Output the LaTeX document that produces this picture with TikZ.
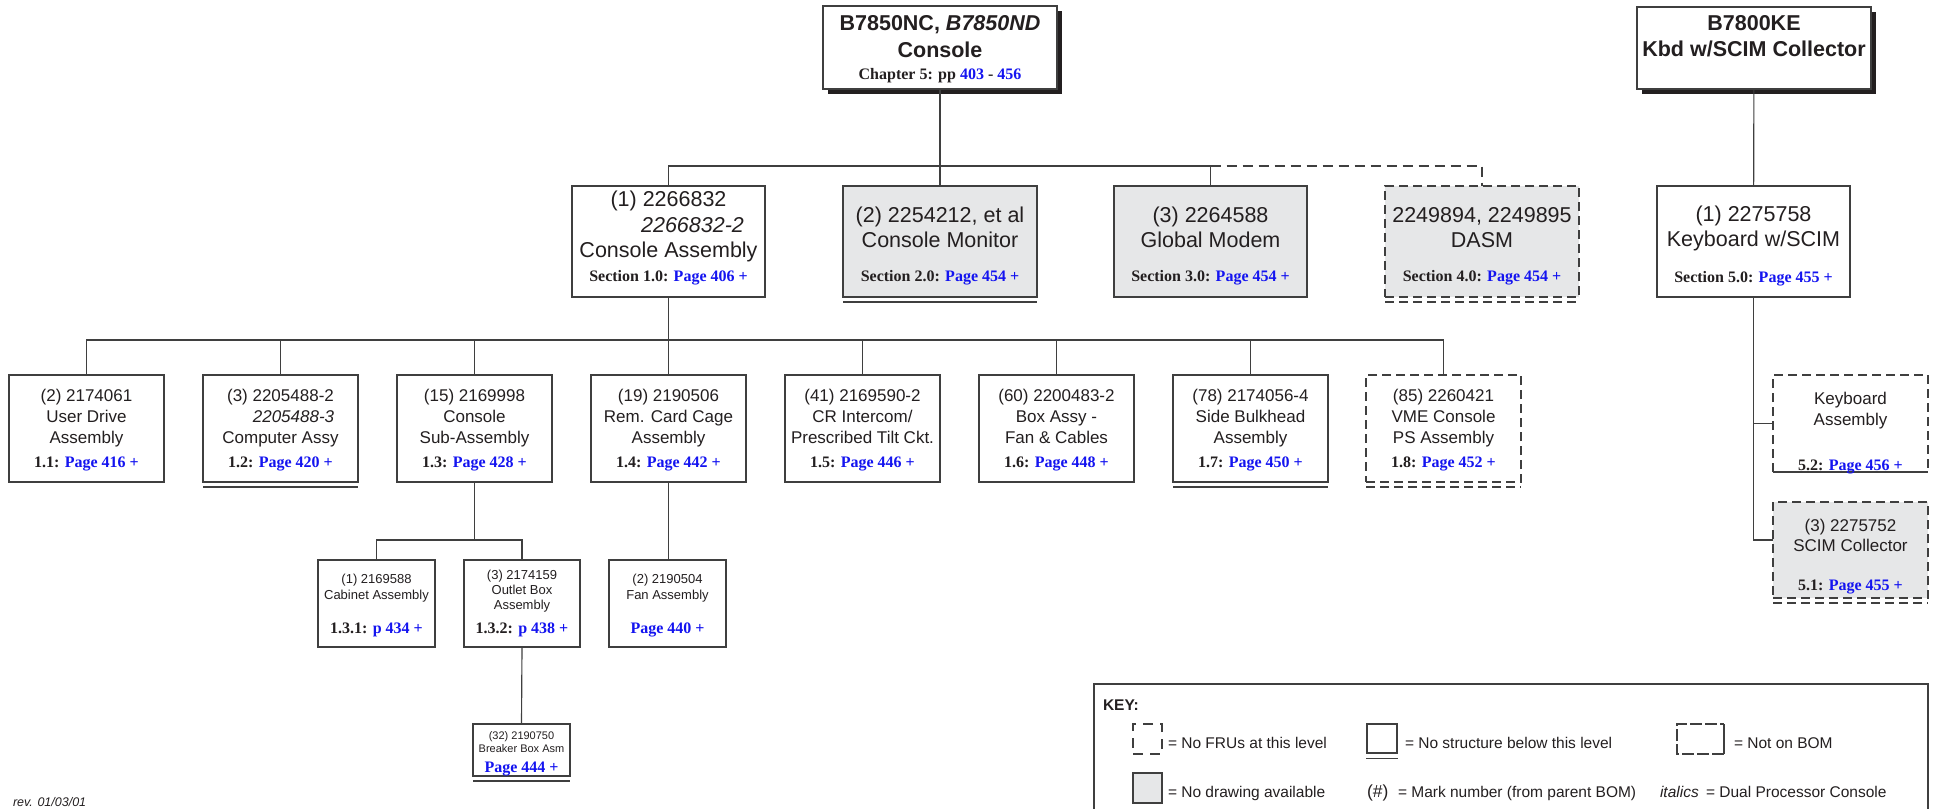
\documentclass[tikz,border=0pt]{standalone}
\usepackage{fontspec}
\setmainfont{Liberation Sans}
\newfontfamily\tms{Liberation Serif}
\usetikzlibrary{fit,calc}
\definecolor{ink}{HTML}{231F20}
\definecolor{edge}{HTML}{3F3F3F}
\definecolor{gfill}{HTML}{E6E7E8}
\definecolor{lnk}{RGB}{20,20,240}
\newcommand\fA{\fontsize{21.5bp}{25bp}\selectfont}
\newcommand\fB{\fontsize{17bp}{21bp}\selectfont}
\newcommand\fC{\fontsize{13bp}{15bp}\selectfont}
\newcommand\fD{\fontsize{11bp}{13bp}\selectfont}
\newcommand\fP{\tms\bfseries\fontsize{16bp}{19bp}\selectfont}
\newcommand\fK{\fontsize{15.5bp}{18bp}\selectfont}
\newcommand\pg[1]{\textcolor{lnk}{#1}}
\newcommand\T[5][]{\node[txt,#1] (#2) at (#3,#4) {#5};}
\begin{document}
\begin{tikzpicture}[x=1bp,y=-1bp,
  box/.style={draw=edge, line width=1.25bp, fill=white, inner sep=0pt, outer sep=0pt},
  gbox/.style={box, fill=gfill},
  dbox/.style={dash pattern=on 9bp off 5bp},
  conn/.style={draw=edge, line width=1.15bp},
  dconn/.style={conn, dash pattern=on 10bp off 6bp},
  txt/.style={inner sep=0pt, outer sep=0pt, anchor=base, text=ink},
  fa/.style={font=\fA}, fb/.style={font=\fB}, fc/.style={font=\fC},
  fd/.style={font=\fD}, fp/.style={font=\fP}, fk/.style={font=\fK}]
\useasboundingbox (0,0) rectangle (1938,809);

% ---------- top boxes with shadows ----------
\fill[ink] (828,11) rectangle (1062,94);
\node[box, fit={(823,6) (1057,89)}] (top) {};
\T[fa]{t1}{940}{31}{\bfseries B7850NC, \itshape B7850ND}
\T[fa]{t2}{940}{58}{\bfseries Console}
\T[fp]{t3}{940}{80}{Chapter 5: pp \pg{403} - \pg{456}}

\fill[ink] (1642,12) rectangle (1876,94);
\node[box, fit={(1637,7) (1871,89)}] (kbe) {};
\T[fa]{k1}{1754}{31}{\bfseries B7800KE}
\T[fa]{k2}{1754}{57}{\bfseries Kbd w/SCIM Collector}

% ---------- level 2 ----------
\node[box, fit={(572,186) (765,297)}] (ca) {};
\T[fa]{ca1}{668.5}{206}{(1) 2266832}
\T[fa]{ca2}{692.5}{232}{\itshape 2266832-2}
\T[fa]{ca3}{668.5}{257}{Console Assembly}
\T[fp]{ca4}{668.5}{281}{Section 1.0: \pg{Page 406 +}}

\node[gbox, fit={(843,186) (1037,297)}] (mon) {};
\draw[conn, line width=1.25bp] ([yshift=-5bp]mon.south west) -- ([yshift=-5bp]mon.south east);
\T[fa]{mo1}{940}{222}{(2) 2254212, et al}
\T[fa]{mo2}{940}{247}{Console Monitor}
\T[fp]{mo3}{940}{281}{Section 2.0: \pg{Page 454 +}}

\node[gbox, fit={(1114,186) (1307,297)}] (gm) {};
\T[fa]{gm1}{1210.5}{222}{(3) 2264588}
\T[fa]{gm2}{1210.5}{247}{Global Modem}
\T[fp]{gm3}{1210.5}{281}{Section 3.0: \pg{Page 454 +}}

\node[gbox, dbox, fit={(1385,186) (1579,297)}] (dasm) {};
\draw[conn, dbox, line width=1.25bp] ([yshift=-5bp]dasm.south west) -- ([yshift=-5bp]dasm.south east);
\T[fa]{da1}{1482}{222}{2249894, 2249895}
\T[fa]{da2}{1482}{247}{DASM}
\T[fp]{da3}{1482}{281}{Section 4.0: \pg{Page 454 +}}

\node[box, fit={(1657,186) (1850,297)}] (kbs) {};
\T[fa]{ks1}{1753.5}{221}{(1) 2275758}
\T[fa]{ks2}{1753.5}{246}{Keyboard w/SCIM}
\T[fp]{ks3}{1753.5}{282}{Section 5.0: \pg{Page 455 +}}

\draw[conn] (top) -- (mon);
\draw[conn] (ca.north) -- ++(0,-20) -| (gm.north);
\draw[dconn] (gm.north) ++(0,-20) -| (dasm.north);
\draw[conn] (kbe) -- (kbs);

% ---------- level 3 ----------
\node[box, fit={(9,375) (164,482)}] (b11) {};
\T[fb]{b11a}{86.5}{401}{(2) 2174061}
\T[fb]{b11b}{86.5}{422}{User Drive}
\T[fb]{b11c}{86.5}{443}{Assembly}
\T[fp]{b11d}{86.5}{467}{1.1: \pg{Page 416 +}}

\node[box, fit={(203,375) (358,482)}] (b12) {};
\draw[conn, line width=1.25bp] ([yshift=-5bp]b12.south west) -- ([yshift=-5bp]b12.south east);
\T[fb]{b12a}{280.5}{401}{(3) 2205488-2}
\T[fb]{b12b}{293.5}{422}{\itshape 2205488-3}
\T[fb]{b12c}{280.5}{443}{Computer Assy}
\T[fp]{b12d}{280.5}{467}{1.2: \pg{Page 420 +}}

\node[box, fit={(397,375) (552,482)}] (b13) {};
\T[fb]{b13a}{474.5}{401}{(15) 2169998}
\T[fb]{b13b}{474.5}{422}{Console}
\T[fb]{b13c}{474.5}{443}{Sub-Assembly}
\T[fp]{b13d}{474.5}{467}{1.3: \pg{Page 428 +}}

\node[box, fit={(591,375) (746,482)}] (b14) {};
\T[fb]{b14a}{668.5}{401}{(19) 2190506}
\T[fb]{b14b}{668.5}{422}{Rem. Card Cage}
\T[fb]{b14c}{668.5}{443}{Assembly}
\T[fp]{b14d}{668.5}{467}{1.4: \pg{Page 442 +}}

\node[box, fit={(785,375) (940,482)}] (b15) {};
\T[fb]{b15a}{862.5}{401}{(41) 2169590-2}
\T[fb]{b15b}{862.5}{422}{CR Intercom/}
\T[fb]{b15c}{862.5}{443}{Prescribed Tilt Ckt.}
\T[fp]{b15d}{862.5}{467}{1.5: \pg{Page 446 +}}

\node[box, fit={(979,375) (1134,482)}] (b16) {};
\T[fb]{b16a}{1056.5}{401}{(60) 2200483-2}
\T[fb]{b16b}{1056.5}{422}{Box Assy -}
\T[fb]{b16c}{1056.5}{443}{Fan \& Cables}
\T[fp]{b16d}{1056.5}{467}{1.6: \pg{Page 448 +}}

\node[box, fit={(1173,375) (1328,482)}] (b17) {};
\draw[conn, line width=1.25bp] ([yshift=-5bp]b17.south west) -- ([yshift=-5bp]b17.south east);
\T[fb]{b17a}{1250.5}{401}{(78) 2174056-4}
\T[fb]{b17b}{1250.5}{422}{Side Bulkhead}
\T[fb]{b17c}{1250.5}{443}{Assembly}
\T[fp]{b17d}{1250.5}{467}{1.7: \pg{Page 450 +}}

\node[box, dbox, fit={(1366,375) (1521,482)}] (b18) {};
\draw[conn, dbox, line width=1.25bp] ([yshift=-5bp]b18.south west) -- ([yshift=-5bp]b18.south east);
\T[fb]{b18a}{1443.5}{401}{(85) 2260421}
\T[fb]{b18b}{1443.5}{422}{VME Console}
\T[fb]{b18c}{1443.5}{443}{PS Assembly}
\T[fp]{b18d}{1443.5}{467}{1.8: \pg{Page 452 +}}

\draw[conn] (ca.south) -- ++(0,43);
\draw[conn] (b11.north) -- ++(0,-35) -| (b18.north);
\foreach \b in {b12,b13,b14,b15,b16,b17} {\draw[conn] (\b.north) -- ++(0,-35);}

% ---------- level 4 ----------
\node[box, fit={(318,560) (435,647)}] (b131) {};
\T[fc]{c1a}{376.5}{583}{(1) 2169588}
\T[fc]{c1b}{376.5}{599}{Cabinet Assembly}
\T[fp]{c1c}{376.5}{633}{1.3.1: \pg{p 434 +}}

\node[box, fit={(464,560) (580,647)}] (b132) {};
\T[fc]{c2a}{522}{579}{(3) 2174159}
\T[fc]{c2b}{522}{594}{Outlet Box}
\T[fc]{c2c}{522}{609}{Assembly}
\T[fp]{c2d}{522}{633}{1.3.2: \pg{p 438 +}}

\node[box, fit={(609,560) (726,647)}] (fan) {};
\T[fc]{f1}{667.5}{583}{(2) 2190504}
\T[fc]{f2}{667.5}{599}{Fan Assembly}
\T[fp]{f3}{667.5}{633}{\pg{Page 440 +}}

\node[box, fit={(473,724) (570,776)}] (brk) {};
\draw[conn, line width=1.25bp] ([yshift=-5bp]brk.south west) -- ([yshift=-5bp]brk.south east);
\T[fd]{r1}{521.5}{739}{(32) 2190750}
\T[fd]{r2}{521.5}{752}{Breaker Box Asm}
\T[fp]{r3}{521.5}{772}{\pg{Page 444 +}}

\draw[conn] (b13.south) -- ++(0,58);
\draw[conn] (b131.north) -- ++(0,-20) -| (b132.north);
\draw[conn] (b132.south) -- (brk.north);
\draw[conn] (b14.south) -- (b14.south |- fan.north);

% ---------- right column ----------
\node[inner sep=0pt, fit={(1773,375) (1928,472)}] (kba) {};
\fill[white] (1773,375) rectangle (1928,472);
\draw[conn, line width=1.25bp, dbox] (1773,472) -- (1773,375) -- (1928,375) -- (1928,472);
\draw[conn, line width=1.25bp] (1773,472) -- (1928,472);
\T[fb]{ka1}{1850.5}{404}{Keyboard}
\T[fb]{ka2}{1850.5}{425}{Assembly}
\T[fp]{ka3}{1850.5}{470}{5.2: \pg{Page 456 +}}

\node[gbox, dbox, fit={(1773,502) (1928,598)}] (scim) {};
\draw[conn, dbox, line width=1.25bp] ([yshift=-5bp]scim.south west) -- ([yshift=-5bp]scim.south east);
\T[fb]{sc1}{1850.5}{531}{(3) 2275752}
\T[fb]{sc2}{1850.5}{551}{SCIM Collector}
\T[fp]{sc3}{1850.5}{590}{5.1: \pg{Page 455 +}}

\draw[conn] (kbs.south) |- ([yshift=10bp]scim.west);
\draw[conn] (kbs.south |- kba.west) -- (kba.west);

% ---------- key ----------
\node[draw=edge, line width=1.15bp, inner sep=0pt, fit={(1094,684) (1928,815)}] (key) {};
\T[fk, anchor=base west]{kt}{1103}{710}{\bfseries KEY:}
\node[draw=edge, line width=1.15bp, dash pattern=on 10bp off 7bp, inner sep=0pt, fit={(1133,724) (1162,754)}] (i1) {};
\T[fk, anchor=base west]{k1t}{1168}{748}{= No FRUs at this level}
\node[draw=edge, line width=1.15bp, inner sep=0pt, fit={(1367,724) (1397,753)}] (i2) {};
\draw[conn] ([yshift=-5bp]i2.south west) -- ([yshift=-5bp]i2.south east);
\T[fk, anchor=base west]{k2t}{1405}{748}{= No structure below this level}
\node[inner sep=0pt, fit={(1677,724) (1724,754)}] (i3) {};
\draw[conn, dash pattern=on 12bp off 3bp] (1724,754) -- (1677,754) -- (1677,724) -- (1724,724);
\draw[conn] (1724,724) -- (1724,754);
\T[fk, anchor=base west]{k3t}{1734}{748}{= Not on BOM}
\node[draw=edge, line width=1.15bp, fill=gfill, inner sep=0pt, fit={(1133,773) (1162,803)}] (i4) {};
\T[fk, anchor=base west]{k4t}{1168}{797}{= No drawing available}
\T[anchor=base west, font=\fontsize{17.5bp}{19bp}\selectfont]{k5s}{1367}{797}{(\#)}
\T[fk, anchor=base west]{k5t}{1398}{797}{= Mark number (from parent BOM)}
\T[fk, anchor=base west]{k6s}{1660}{797}{\itshape italics}
\T[fk, anchor=base west]{k6t}{1706}{797}{= Dual Processor Console}

\T[anchor=base west, font=\fontsize{12.5bp}{14bp}\selectfont]{rev}{13}{806}{\itshape rev. 01/03/01}
\end{tikzpicture}
\end{document}
